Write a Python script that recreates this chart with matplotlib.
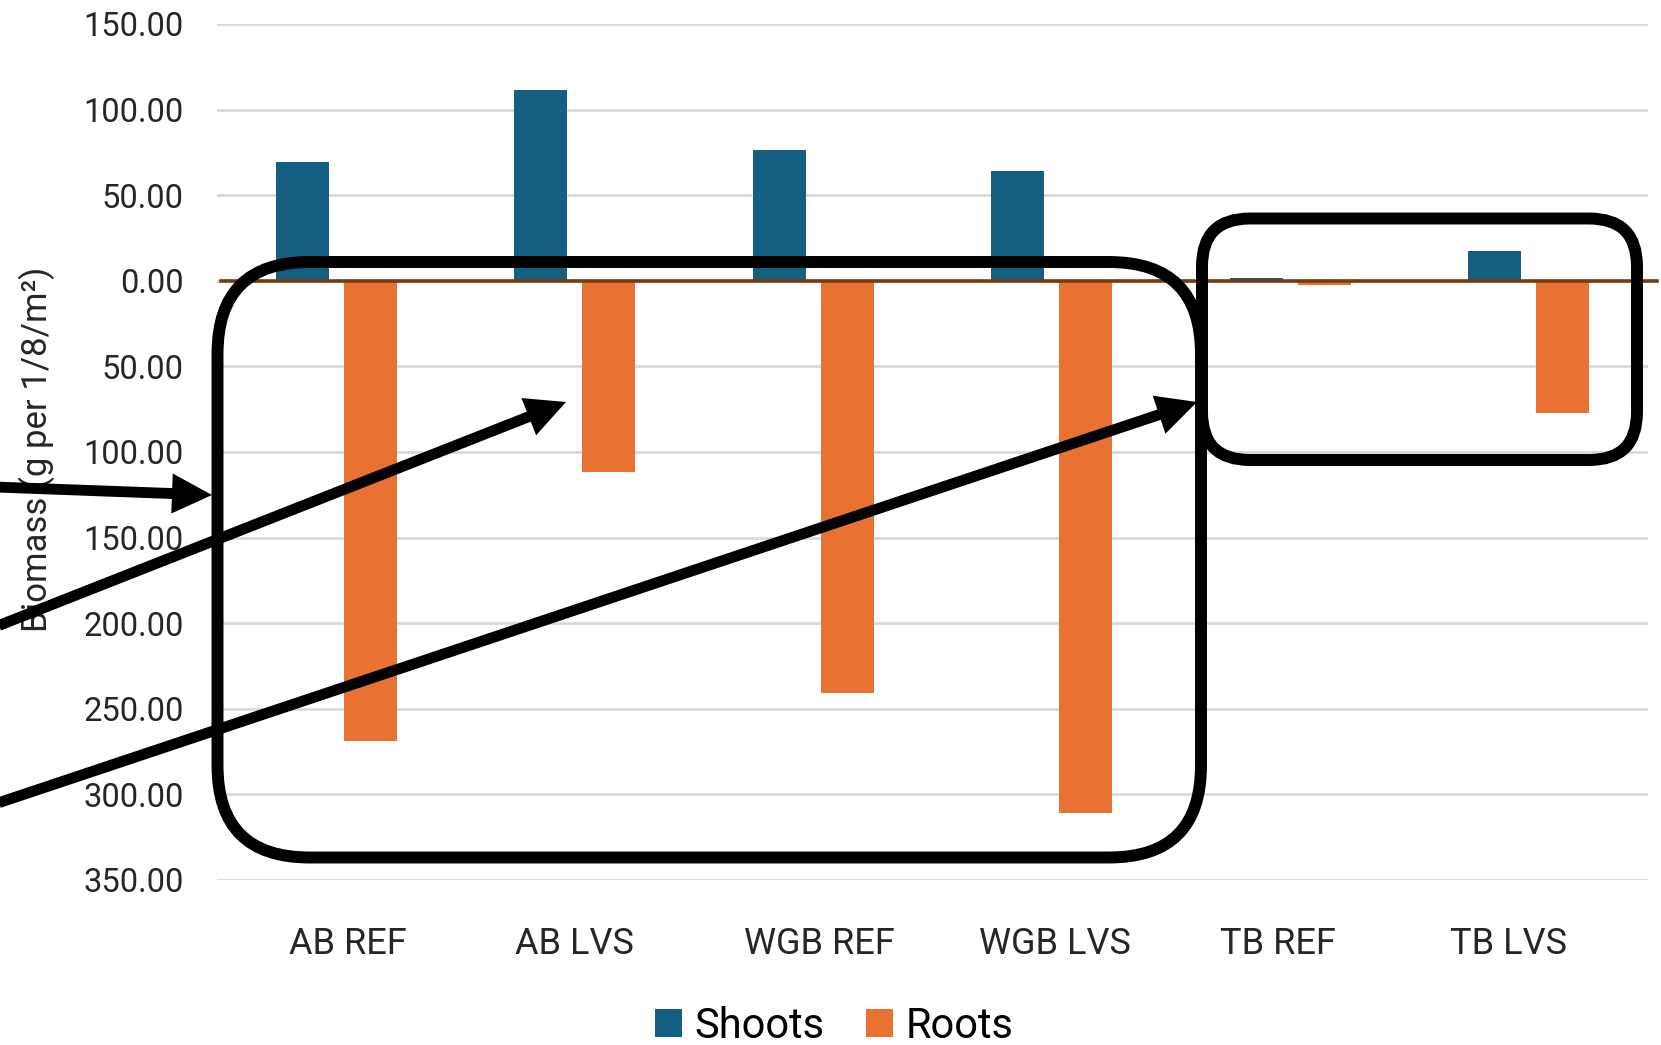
import numpy as np
import matplotlib
matplotlib.use("Agg")
import matplotlib.pyplot as plt
from matplotlib.patches import FancyBboxPatch, Polygon
from matplotlib.lines import Line2D
from matplotlib.ticker import FuncFormatter, MultipleLocator
from matplotlib.transforms import ScaledTranslation

# ---- data ----
categories = ['AB REF', 'AB LVS', 'WGB REF', 'WGB LVS', 'TB REF', 'TB LVS']
shoots = [69.5, 111.6, 76.3, 64.0, 1.7, 17.5]
roots = [269.0, 111.7, 241.0, 311.0, 2.2, 77.0]
series_names = ['Shoots', 'Roots']
y_label = 'Biomass (g per 1/8/m\u00b2)'

plt.rcParams['font.family'] = ['Roboto', 'DejaVu Sans']

W, H = 1661, 1045
fig = plt.figure(figsize=(W / 100, H / 100), dpi=100)
ax = fig.add_axes([217 / W, 1 - 880 / H, (1648 - 217) / W, (880 - 24) / H])

x = np.arange(len(categories))
bw = 0.222
off = 0.143
c_sh = '#156082'
c_rt = '#E97132'
ax.bar(x - off, shoots, bw, color=c_sh, label=series_names[0], zorder=3)
ax.bar(x + off, [-r for r in roots], bw, color=c_rt, label=series_names[1], zorder=3)

ax.set_xlim(-0.5, len(categories) - 0.5)
ax.set_ylim(-350, 150)
ax.yaxis.set_major_locator(MultipleLocator(50))
ax.yaxis.set_major_formatter(FuncFormatter(lambda v, p: f'{abs(v):.2f}'))
ax.grid(axis='y', color='#D9D9D9', linewidth=2.0, zorder=0)
ax.set_axisbelow(True)
for s in ax.spines.values():
    s.set_visible(False)
ax.axhline(0, xmin=0.003, xmax=1.006, color='#783A0E', linewidth=2.6, zorder=4, clip_on=False)

ax.set_xticks(x)
ax.set_xticklabels(categories)
ax.tick_params(axis='x', length=0, pad=33, labelsize=26, labelcolor='#262626')
ax.tick_params(axis='y', length=0, pad=24, labelsize=23.5, labelcolor='#262626')

# small horizontal shifts of category labels (pixels) as seen in the reference
label_dx = [12, 0, 6, 3, -12, -20]
for lab, dx in zip(ax.get_xticklabels(), label_dx):
    lab.set_transform(lab.get_transform() + ScaledTranslation(dx / 100, 0, fig.dpi_scale_trans))

fig.text(37 / W, 1 - 449 / H, y_label, rotation=90, ha='center', va='center',
         fontsize=25, color='#262626')

leg = fig.legend(loc='center', bbox_to_anchor=(834 / W, 1 - 1026 / H), ncol=2,
                 frameon=False, fontsize=30, handlelength=0.65, handleheight=0.65,
                 handletextpad=0.3, columnspacing=1.0, borderaxespad=0)

# ---- annotation overlay (pixel coords from top-left) ----
T = fig.dpi_scale_trans
def P(px, py):
    return (px / 100.0, (H - py) / 100.0)

def rbox(x0, y0, x1, y1, r):
    (a, b) = P(x0, y1)
    p = FancyBboxPatch((a, b), (x1 - x0) / 100, (y1 - y0) / 100,
                       boxstyle=f'round,pad=0,rounding_size={r / 100}',
                       transform=T, fill=False, edgecolor='black', linewidth=8.6,
                       zorder=10, clip_on=False)
    fig.add_artist(p)

def arrow(x0, y0, x1, y1, L=40, Wd=20):
    d = np.array([x1 - x0, y1 - y0], float)
    u = d / np.hypot(*d)
    n = np.array([-u[1], u[0]])
    tip = np.array([x1, y1], float)
    base = tip - u * L
    lend = tip - u * L * 0.7
    xs, ys = zip(P(x0, y0), P(*lend))
    fig.add_artist(Line2D(xs, ys, transform=T, color='black', linewidth=7.8,
                          solid_capstyle='butt', zorder=11))
    pts = [P(*tip), P(*(base + n * Wd)), P(*(base - n * Wd))]
    fig.add_artist(Polygon(pts, closed=True, transform=T, facecolor='black',
                           edgecolor='none', zorder=12))

rbox(217.5, 262, 1201, 857.5, 92)
rbox(1202, 218.5, 1637, 460, 48)
arrow(-5, 487, 212, 495)
arrow(-5, 627, 566, 402)
arrow(-5, 804, 1197, 402)

fig.savefig('out.png', dpi=100)
